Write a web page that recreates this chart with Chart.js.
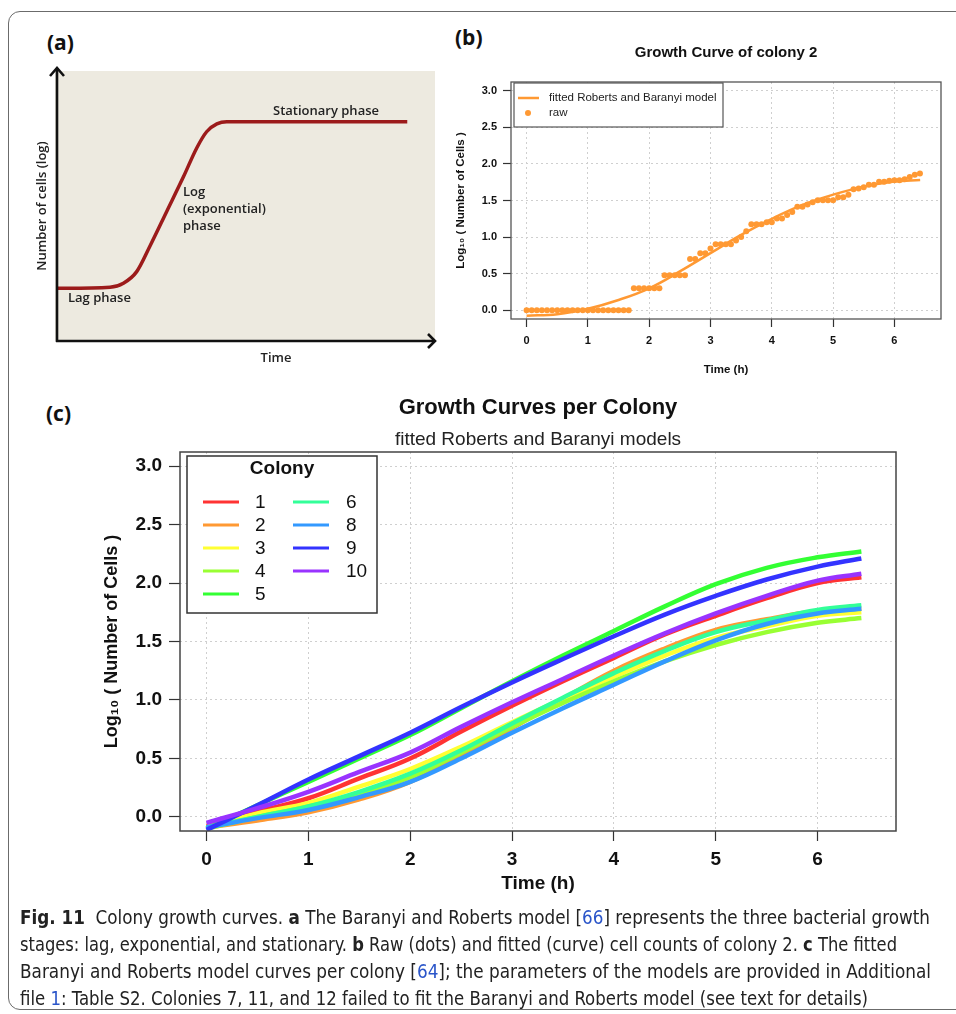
<!DOCTYPE html>
<html><head><meta charset="utf-8">
<script src="https://cdn.jsdelivr.net/npm/chart.js@4.4.1/dist/chart.umd.min.js"></script>
<style>
html,body{margin:0;padding:0;background:#fff;width:956px;height:1014px;overflow:hidden;position:relative;}
.frame{position:absolute;left:8px;top:11px;width:1000px;height:999px;border:1.5px solid #6b6b6b;border-radius:12px;box-sizing:border-box;}
canvas{position:absolute;}
.plab{position:absolute;font-family:"Open Sans","Liberation Sans",Arial,sans-serif;font-weight:700;font-size:21px;line-height:24px;color:#111;}
.cap{position:absolute;left:20px;white-space:nowrap;font-family:"Liberation Sans Narrow","DejaVu Sans Condensed","Liberation Sans",sans-serif;font-size:19px;line-height:22px;color:#222;transform-origin:0 50%;}
.cap a{color:#2a55c9;text-decoration:none;}
</style></head>
<body>
<div class="frame"></div>
<div class="plab" style="left:47px;top:30px">(a)</div>
<div class="plab" style="left:455px;top:25px">(b)</div>
<div class="plab" style="left:46px;top:401px">(c)</div>
<canvas id="ca" width="450" height="390" style="left:0;top:0"></canvas>
<canvas id="cb" width="506" height="400" style="left:450px;top:0"></canvas>
<canvas id="cc" width="956" height="525" style="left:0;top:380px"></canvas>
<div class="cap" style="top:906px"><b>Fig. 11</b>&nbsp; Colony growth curves. <b>a</b> The Baranyi and Roberts model [<a>66</a>] represents the three bacterial growth</div>
<div class="cap" style="top:933px">stages: lag, exponential, and stationary. <b>b</b> Raw (dots) and fitted (curve) cell counts of colony 2. <b>c</b> The fitted</div>
<div class="cap" style="top:960px">Baranyi and Roberts model curves per colony [<a>64</a>]; the parameters of the models are provided in Additional</div>
<div class="cap" style="top:987px">file <a>1</a>: Table S2. Colonies 7, 11, and 12 failed to fit the Baranyi and Roberts model (see text for details)</div>
<script>
// ---------------- DATA ----------------
// (a) schematic growth curve (arbitrary units 0-100)
const schematicTime  = [0.5, 14.5, 18.0, 21.5, 25.0, 29.4, 33.8, 37.3, 39.9, 42.6, 45.2, 92.7];
const schematicCells = [19.5, 19.9, 21.4, 25.7, 35.2, 48.0, 60.8, 71.5, 77.5, 80.4, 81.2, 81.2];

// (b) colony 2 raw counts (time in minutes) and fitted model
const rawMinutes = [0,5,10,15,20,25,30,35,40,45,50,55,60,65,70,75,80,85,90,95,100,105,110,115,120,125,130,135,140,145,150,155,160,165,170,175,180,185,190,195,200,205,210,215,220,225,230,235,240,245,250,255,260,265,270,275,280,285,290,295,300,305,310,315,320,325,330,335,340,345,350,355,360,365,370,375,380,385];
const rawLogCells = [0,0,0,0,0,0,0,0,0,0,0,0,0,0,0,0,0,0,0,0,0,
  0.301,0.301,0.301,0.301,0.301,0.301,
  0.477,0.477,0.477,0.477,0.477,
  0.699,0.699,0.778,0.778,0.845,
  0.903,0.903,0.903,0.903,
  0.954,1.0,1.079,1.176,1.176,1.176,1.204,1.204,1.255,1.255,
  1.301,1.342,1.415,1.415,1.447,1.477,1.505,1.505,1.505,1.505,
  1.544,1.544,1.58,1.653,1.663,1.681,1.716,1.716,1.756,1.756,
  1.771,1.778,1.778,1.792,1.82,1.851,1.869];
const fitTime = [0, 0.5, 1, 1.5, 2, 2.5, 3, 3.5, 4, 4.5, 5, 5.5, 6, 6.42];
const fitLogCells = [-0.075, -0.055, 0.02, 0.14, 0.30, 0.53, 0.78, 1.03, 1.25, 1.44, 1.58, 1.69, 1.76, 1.78];

// (c) fitted curves per colony
const colonyLabels = ['1','2','3','4','5','6','8','9','10'];
const colonyColors = ['#ff3333','#ff9933','#ffff33','#99ff33','#33ff33','#33ff99','#3399ff','#3333ff','#9933ff'];
const curveTime = [0, 0.5, 1, 1.5, 2, 2.5, 3, 3.5, 4, 4.5, 5, 5.5, 6, 6.43];
const colony1  = [-0.08, 0.045, 0.16, 0.33, 0.50, 0.73, 0.95, 1.16, 1.36, 1.56, 1.72, 1.87, 2.00, 2.05];
const colony2  = [-0.09, -0.03, 0.04, 0.15, 0.30, 0.52, 0.76, 1.01, 1.25, 1.44, 1.60, 1.69, 1.76, 1.78];
const colony3  = [-0.085, 0.03, 0.12, 0.26, 0.41, 0.60, 0.81, 1.01, 1.20, 1.38, 1.53, 1.63, 1.72, 1.75];
const colony4  = [-0.10, 0.0, 0.09, 0.20, 0.34, 0.55, 0.77, 0.975, 1.16, 1.33, 1.47, 1.58, 1.66, 1.70];
const colony5  = [-0.10, 0.10, 0.30, 0.50, 0.70, 0.93, 1.16, 1.38, 1.59, 1.80, 1.99, 2.13, 2.22, 2.27];
const colony6  = [-0.09, 0.0, 0.09, 0.215, 0.37, 0.57, 0.80, 1.02, 1.23, 1.42, 1.58, 1.68, 1.77, 1.81];
const colony8  = [-0.09, -0.01, 0.06, 0.17, 0.30, 0.50, 0.72, 0.93, 1.13, 1.33, 1.51, 1.65, 1.74, 1.78];
const colony9  = [-0.11, 0.10, 0.32, 0.52, 0.72, 0.94, 1.15, 1.35, 1.545, 1.73, 1.89, 2.03, 2.14, 2.21];
const colony10 = [-0.05, 0.075, 0.215, 0.385, 0.55, 0.77, 0.98, 1.18, 1.38, 1.57, 1.74, 1.89, 2.02, 2.08];

const yTicks = [0, 0.5, 1, 1.5, 2, 2.5, 3];
const xTicks = [0, 1, 2, 3, 4, 5, 6];

// ---------------- HELPERS ----------------
const SANS = '"Liberation Sans", Arial, sans-serif';
const OPEN = '"Open Sans", "Liberation Sans", sans-serif';
Chart.defaults.font.family = SANS;

function framePlugin(color, width){
  return {id:'frame', afterDatasetsDraw(chart){
    const a = chart.chartArea, c = chart.ctx;
    c.save(); c.strokeStyle = color; c.lineWidth = width;
    c.strokeRect(a.left, a.top, a.right - a.left, a.bottom - a.top);
    c.restore();
  }};
}
function textPlugin(items){
  return {id:'texts', afterDraw(chart){
    const a = chart.chartArea, c = chart.ctx;
    c.save();
    items.forEach(it => {
      c.font = it.font; c.fillStyle = it.color || '#111';
      c.textAlign = it.align || 'center'; c.textBaseline = 'middle';
      const x = it.x === 'center' ? (a.left + a.right) / 2 : it.x;
      if (it.rot) { c.save(); c.translate(x, it.y); c.rotate(it.rot); c.fillText(it.text, 0, 0); c.restore(); }
      else c.fillText(it.text, x, it.y);
    });
    c.restore();
  }};
}
function axisCfg(o){
  return {
    type:'linear', min:o.min, max:o.max,
    afterBuildTicks: s => { s.ticks = o.ticks.map(v => ({value:v})); },
    afterFit: s => { if (o.width) s.width = o.width; if (o.height) s.height = o.height; },
    grid:{color:'#cfcfcf', lineWidth:1, tickLength:o.tl, tickColor:'#333', tickWidth:1.2, tickBorderDash:[]},
    border:{display:false, dash:[2,3]},
    ticks:{color:'#111', font:{family:SANS, size:o.fs, weight:'bold'}, padding:o.tp, autoSkip:false, maxRotation:0,
           callback: o.fmt},
    title:{display:true, text:o.title, color:'#111', font:{family:SANS, size:o.tfs, weight:'bold'}, padding:o.tpad}
  };
}

// ---------------- (a) ----------------
new Chart(document.getElementById('ca'), {
  type:'line',
  data:{datasets:[{data: schematicTime.map((x,i) => ({x, y: schematicCells[i]})),
    borderColor:'#9c1b1b', borderWidth:3.5, pointRadius:0, cubicInterpolationMode:'monotone', fill:false, clip:10}]},
  options:{responsive:false, animation:false, devicePixelRatio:1,
    layout:{padding:{left:55, right:15, top:71, bottom:49}},
    plugins:{legend:{display:false}, tooltip:{enabled:false}},
    scales:{x:{type:'linear', min:0, max:100, display:false}, y:{type:'linear', min:0, max:100, display:false}}},
  plugins:[
    {id:'bg', beforeDatasetsDraw(chart){ const a = chart.chartArea, c = chart.ctx;
      c.save(); c.fillStyle = '#edeae0'; c.fillRect(a.left, a.top, a.right - a.left, a.bottom - a.top); c.restore(); },
     afterDraw(chart){ const a = chart.chartArea, c = chart.ctx;
      const x0 = a.left + 2, y0 = a.bottom;
      c.save(); c.strokeStyle = '#111'; c.lineWidth = 2.6; c.lineJoin = 'miter'; c.lineCap = 'butt';
      c.beginPath(); c.moveTo(x0, y0 + 1); c.lineTo(x0, a.top - 3); c.stroke();
      c.beginPath(); c.moveTo(x0 - 7, a.top + 5); c.lineTo(x0, a.top - 3); c.lineTo(x0 + 7, a.top + 5); c.stroke();
      c.beginPath(); c.moveTo(x0 - 1, y0); c.lineTo(a.right, y0); c.stroke();
      c.beginPath(); c.moveTo(a.right - 7, y0 - 7); c.lineTo(a.right, y0); c.lineTo(a.right - 7, y0 + 7); c.stroke();
      c.restore(); }},
    textPlugin([
      {text:'Stationary phase', x:273, y:111, align:'left', font:'600 13px '+OPEN, color:'#222'},
      {text:'Log', x:183, y:192, align:'left', font:'600 13px '+OPEN, color:'#222'},
      {text:'(exponential)', x:183, y:209, align:'left', font:'600 13px '+OPEN, color:'#222'},
      {text:'phase', x:183, y:226, align:'left', font:'600 13px '+OPEN, color:'#222'},
      {text:'Lag phase', x:68, y:298, align:'left', font:'600 13px '+OPEN, color:'#222'},
      {text:'Time', x:276, y:358, font:'600 13px '+OPEN, color:'#222'},
      {text:'Number of cells (log)', x:42, y:206, rot:-Math.PI/2, font:'600 13px '+OPEN, color:'#222'}
    ])
  ]
});

// ---------------- (b) ----------------
const orange = '#ff9933';
new Chart(document.getElementById('cb'), {
  type:'line',
  data:{datasets:[
    {label:'fitted Roberts and Baranyi model', data: fitTime.map((t,i) => ({x:t, y:fitLogCells[i]})),
     borderColor:orange, backgroundColor:orange, borderWidth:2.5, pointRadius:0, tension:0.4, fill:false, order:0},
    {label:'raw', data: rawMinutes.map((m,i) => ({x:m/60, y:rawLogCells[i]})), showLine:false,
     pointRadius:3, pointBorderWidth:0, pointBackgroundColor:orange, borderColor:orange, backgroundColor:orange, order:1}
  ]},
  options:{responsive:false, animation:false, devicePixelRatio:1,
    layout:{padding:{left:0, right:15, top:82, bottom:0}},
    plugins:{legend:{display:false}, tooltip:{enabled:false}},
    scales:{
      x: axisCfg({min:-0.254, max:6.76, ticks:xTicks, height:81, tl:8, fs:11, tp:7.4, fmt:v => String(v),
                  title:'Time (h)', tfs:11.5, tpad:{top:0, bottom:23.1}}),
      y: axisCfg({min:-0.12, max:3.12, ticks:yTicks, width:61, tl:8, fs:11, tp:6, fmt:v => v.toFixed(1),
                  title:'Log\u2081\u2080 ( Number of Cells )', tfs:11.5, tpad:{top:4.1, bottom:0}})
    }},
  plugins:[
    framePlugin('#555', 1.3),
    textPlugin([{text:'Growth Curve of colony 2', x:'center', y:53, font:'bold 15px '+SANS, color:'#111'}]),
    {id:'legendB', afterDraw(chart){
      const a = chart.chartArea, c = chart.ctx, ds = chart.data.datasets;
      const bx = a.left + 3, by = a.top + 1, bw = 209, bh = 44;
      c.save(); c.fillStyle = '#fff'; c.fillRect(bx, by, bw, bh);
      c.strokeStyle = '#555'; c.lineWidth = 1.2; c.strokeRect(bx, by, bw, bh);
      c.strokeStyle = ds[0].borderColor; c.lineWidth = 2.5;
      c.beginPath(); c.moveTo(bx + 4, by + 15); c.lineTo(bx + 25, by + 15); c.stroke();
      c.fillStyle = ds[1].pointBackgroundColor; c.beginPath(); c.arc(bx + 14, by + 30, 3, 0, Math.PI * 2); c.fill();
      c.fillStyle = '#222'; c.font = '11.5px ' + SANS; c.textAlign = 'left'; c.textBaseline = 'middle';
      c.fillText(ds[0].label, bx + 35, by + 15); c.fillText(ds[1].label, bx + 35, by + 30);
      c.restore(); }}
  ]
});

// ---------------- (c) ----------------
const colonySeries = [colony1, colony2, colony3, colony4, colony5, colony6, colony8, colony9, colony10];
new Chart(document.getElementById('cc'), {
  type:'line',
  data:{datasets: colonySeries.map((vals, i) => ({
    label: colonyLabels[i], data: curveTime.map((t, j) => ({x:t, y:vals[j]})),
    borderColor: colonyColors[i], backgroundColor: colonyColors[i], borderWidth:4.5, pointRadius:0,
    tension:0.4, fill:false, order: colonySeries.length - i }))},
  options:{responsive:false, animation:false, devicePixelRatio:1,
    layout:{padding:{left:0, right:60, top:72, bottom:0}},
    plugins:{legend:{display:false}, tooltip:{enabled:false}},
    scales:{
      x: axisCfg({min:-0.26, max:6.77, ticks:xTicks, height:74, tl:10, fs:19, tp:7.6, fmt:v => String(v),
                  title:'Time (h)', tfs:19, tpad:{top:0, bottom:9.6}}),
      y: axisCfg({min:-0.12, max:3.12, ticks:yTicks, width:180, tl:11, fs:19, tp:7, fmt:v => v.toFixed(1),
                  title:'Log\u2081\u2080 ( Number of Cells )', tfs:18, tpad:{top:101.2, bottom:0}})
    }},
  plugins:[
    framePlugin('#444', 1.5),
    textPlugin([
      {text:'Growth Curves per Colony', x:'center', y:28, font:'bold 22px '+SANS, color:'#111'},
      {text:'fitted Roberts and Baranyi models', x:'center', y:60, font:'19px '+SANS, color:'#222'}
    ]),
    {id:'legendC', afterDraw(chart){
      const a = chart.chartArea, c = chart.ctx, ds = chart.data.datasets;
      const bx = a.left + 7, by = a.top + 4, bw = 190, bh = 157;
      c.save(); c.fillStyle = '#fff'; c.fillRect(bx, by, bw, bh);
      c.strokeStyle = '#333'; c.lineWidth = 1.5; c.strokeRect(bx, by, bw, bh);
      c.fillStyle = '#111'; c.font = 'bold 19px ' + SANS; c.textAlign = 'center'; c.textBaseline = 'middle';
      c.fillText('Colony', bx + bw / 2, by + 13);
      c.font = '19px ' + SANS; c.textAlign = 'left';
      ds.forEach((d, i) => {
        const col = i < 5 ? 0 : 1, row = i < 5 ? i : i - 5;
        const y = by + 46 + row * 23, lx = bx + 16 + col * 90;
        c.strokeStyle = d.borderColor; c.lineWidth = 3;
        c.beginPath(); c.moveTo(lx, y); c.lineTo(lx + 36, y); c.stroke();
        c.fillStyle = '#111'; c.fillText(d.label, lx + 52 + col * 1, y + 1);
      });
      c.restore(); }}
  ]
});

// caption line widths to match the reference layout
const capTargets = [910, 877, 911, 848];
document.querySelectorAll('.cap').forEach((el, i) => {
  const w = el.getBoundingClientRect().width;
  if (w > 0) el.style.transform = 'scaleX(' + (capTargets[i] / w) + ')';
});
</script>
</body></html>
